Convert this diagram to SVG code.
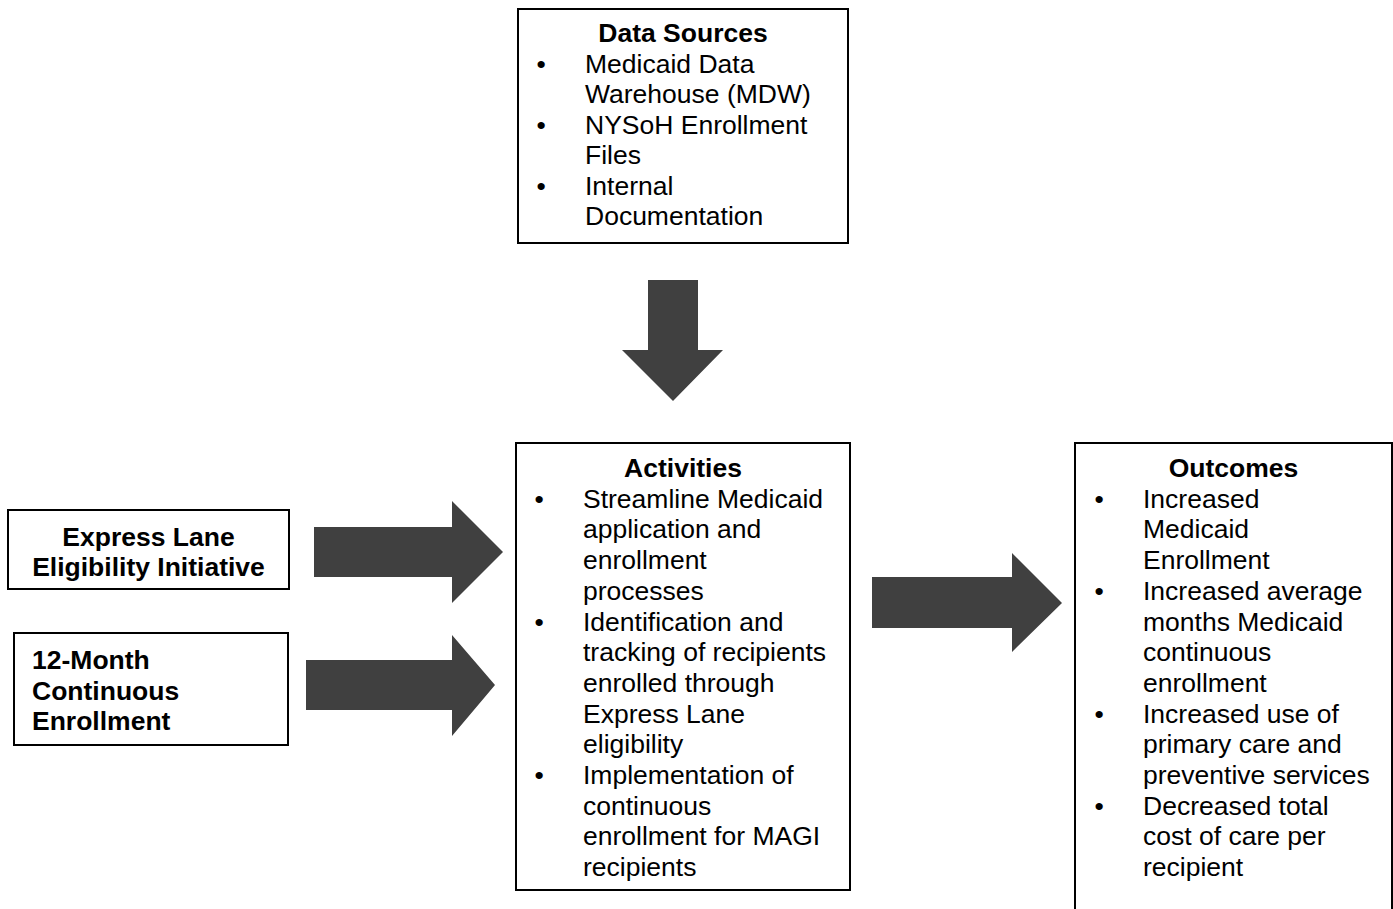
<svg xmlns="http://www.w3.org/2000/svg" width="1393" height="909" viewBox="0 0 1393 909">
<style>
.box{fill:#fff;stroke:#000;stroke-width:2}
.t{font-family:"Liberation Sans",Arial,sans-serif;font-size:26.5px;fill:#000}
.b{font-weight:bold}
.arrow{fill:#404040}
</style>
<rect width="1393" height="909" fill="#fff"/>
<g id="data-sources">
<rect class="box" x="518" y="9" width="330" height="234"/>
<text class="t b" x="683" y="42" text-anchor="middle">Data Sources</text>
<g class="t">
<text x="536.5" y="72.5">•</text>
<text x="585" y="72.5">Medicaid Data</text>
<text x="585" y="103">Warehouse (MDW)</text>
<text x="536.5" y="133.5">•</text>
<text x="585" y="133.5">NYSoH Enrollment</text>
<text x="585" y="164">Files</text>
<text x="536.5" y="194.5">•</text>
<text x="585" y="194.5">Internal</text>
<text x="585" y="225">Documentation</text>
</g>
</g>
<g id="express-lane">
<rect class="box" x="8" y="510" width="281" height="79"/>
<text class="t b" x="148.5" y="546" text-anchor="middle">Express Lane</text>
<text class="t b" x="148.5" y="576" text-anchor="middle">Eligibility Initiative</text>
</g>
<g id="continuous-enrollment">
<rect class="box" x="14" y="633" width="274" height="112"/>
<text class="t b" x="32" y="669">12-Month</text>
<text class="t b" x="32" y="699.5">Continuous</text>
<text class="t b" x="32" y="730">Enrollment</text>
</g>
<g id="activities">
<rect class="box" x="516" y="443" width="334" height="447"/>
<text class="t b" x="683" y="477" text-anchor="middle">Activities</text>
<g class="t">
<text x="534.5" y="507.7">•</text>
<text x="583" y="507.7">Streamline Medicaid</text>
<text x="583" y="538.4">application and</text>
<text x="583" y="569.1">enrollment</text>
<text x="583" y="599.8">processes</text>
<text x="534.5" y="630.5">•</text>
<text x="583" y="630.5">Identification and</text>
<text x="583" y="661.2">tracking of recipients</text>
<text x="583" y="691.9">enrolled through</text>
<text x="583" y="722.6">Express Lane</text>
<text x="583" y="753.3">eligibility</text>
<text x="534.5" y="784">•</text>
<text x="583" y="784">Implementation of</text>
<text x="583" y="814.7">continuous</text>
<text x="583" y="845.4">enrollment for MAGI</text>
<text x="583" y="876.1">recipients</text>
</g>
</g>
<g id="outcomes">
<rect class="box" x="1075" y="443" width="317" height="480"/>
<text class="t b" x="1233.5" y="477" text-anchor="middle">Outcomes</text>
<g class="t">
<text x="1094.5" y="507.7">•</text>
<text x="1143" y="507.7">Increased</text>
<text x="1143" y="538.4">Medicaid</text>
<text x="1143" y="569.1">Enrollment</text>
<text x="1094.5" y="599.8">•</text>
<text x="1143" y="599.8">Increased average</text>
<text x="1143" y="630.5">months Medicaid</text>
<text x="1143" y="661.2">continuous</text>
<text x="1143" y="691.9">enrollment</text>
<text x="1094.5" y="722.6">•</text>
<text x="1143" y="722.6">Increased use of</text>
<text x="1143" y="753.3">primary care and</text>
<text x="1143" y="784">preventive services</text>
<text x="1094.5" y="814.7">•</text>
<text x="1143" y="814.7">Decreased total</text>
<text x="1143" y="845.4">cost of care per</text>
<text x="1143" y="876.1">recipient</text>
</g>
</g>
<g id="connectors">
<polygon class="arrow" points="648,280 698,280 698,350 723,350 673,401 622,350 648,350"/>
<polygon class="arrow" points="314,527 452,527 452,501 503,552 452,603 452,577 314,577"/>
<polygon class="arrow" points="306,660 452,660 452,635 495,685 452,736 452,710 306,710"/>
<polygon class="arrow" points="872,577 1012,577 1012,553 1062,603 1012,652 1012,628 872,628"/>
</g>
</svg>
